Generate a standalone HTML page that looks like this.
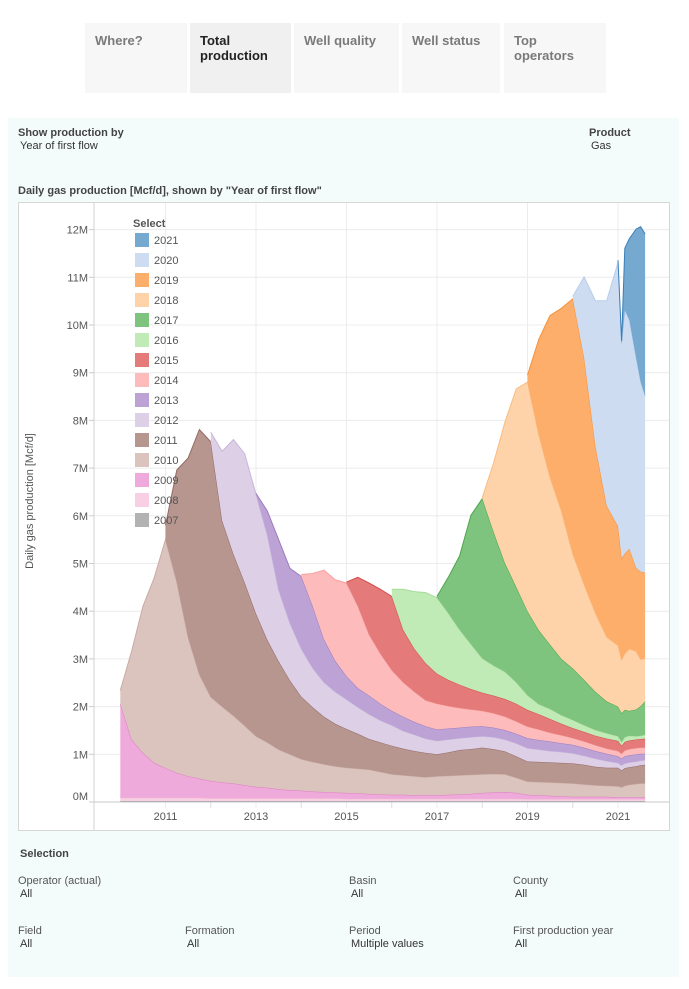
<!DOCTYPE html>
<html><head><meta charset="utf-8">
<style>
body{margin:0;width:689px;height:989px;background:#fff;font-family:"Liberation Sans",sans-serif;position:relative;overflow:hidden}
.a{position:absolute;white-space:nowrap}
.tab{position:absolute;top:23px;height:70px;background:#f7f7f7;font-weight:bold;font-size:13px;color:#7a7a7a;box-sizing:border-box;padding:10px 0 0 10px;line-height:15px}
.lbl{font-size:11px;color:#555}
.val{font-size:11px;color:#333}
.b{font-weight:bold;font-size:11px;color:#444}
</style></head><body>
<div class="tab" style="left:85px;width:102px">Where?</div>
<div class="tab" style="left:190px;width:101px;background:#f0f0f0;color:#222">Total<br>production</div>
<div class="tab" style="left:294px;width:105px">Well quality</div>
<div class="tab" style="left:402px;width:98px">Well status</div>
<div class="tab" style="left:504px;width:102px">Top<br>operators</div>

<div class="a" style="left:8px;top:118px;width:671px;height:859px;background:#f4fcfb"></div>
<div class="a b" style="left:18px;top:127px">Show production by</div>
<div class="a val" style="left:20px;top:140px">Year of first flow</div>
<div class="a b" style="left:589px;top:127px">Product</div>
<div class="a val" style="left:591px;top:140px">Gas</div>
<div class="a b" style="left:18px;top:185px">Daily gas production [Mcf/d], shown by "Year of first flow"</div>

<svg class="a" id="chart" style="left:0;top:0" width="689" height="989" xmlns="http://www.w3.org/2000/svg"></svg>

<div class="a b" style="left:20px;top:848px">Selection</div>
<div class="a lbl" style="left:18px;top:875px">Operator (actual)</div>
<div class="a val" style="left:20px;top:888px">All</div>
<div class="a lbl" style="left:349px;top:875px">Basin</div>
<div class="a val" style="left:351px;top:888px">All</div>
<div class="a lbl" style="left:513px;top:875px">County</div>
<div class="a val" style="left:515px;top:888px">All</div>
<div class="a lbl" style="left:18px;top:925px">Field</div>
<div class="a val" style="left:20px;top:938px">All</div>
<div class="a lbl" style="left:185px;top:925px">Formation</div>
<div class="a val" style="left:187px;top:938px">All</div>
<div class="a lbl" style="left:349px;top:925px">Period</div>
<div class="a val" style="left:351px;top:938px">Multiple values</div>
<div class="a lbl" style="left:513px;top:925px">First production year</div>
<div class="a val" style="left:515px;top:938px">All</div>

<script>
const times=[2010,2010.25,2010.5,2010.75,2011,2011.25,2011.5,2011.75,2012,2012.25,2012.5,2012.75,2013,2013.25,2013.5,2013.75,2014,2014.25,2014.5,2014.75,2015,2015.25,2015.5,2015.75,2016,2016.25,2016.5,2016.75,2017,2017.25,2017.5,2017.75,2018,2018.25,2018.5,2018.75,2019,2019.25,2019.5,2019.75,2020,2020.25,2020.5,2020.75,2021,2021.08,2021.15,2021.25,2021.4,2021.5,2021.6];
const cohorts=["2007","2008","2009","2010","2011","2012","2013","2014","2015","2016","2017","2018","2019","2020","2021"];
const v2007=[.02,.02,.02,.02,.02,.02,.02,.02,.02,.02,.02,.02,.02,.02,.02,.02,.02,.02,.02,.02,.02,.02,.02,.02,.02,.02,.02,.02,.02,.02,.02,.02,.02,.02,.02,.02,.02,.02,.02,.02,.02,.02,.02,.02,.02,.02,.02,.02,.02,.02,.02];
const v2008=[.07,.07,.07,.07,.07,.07,.07,.07,.06,.06,.06,.06,.06,.06,.06,.06,.06,.06,.06,.06,.05,.05,.05,.05,.05,.05,.05,.05,.05,.05,.05,.05,.05,.05,.05,.05,.04,.04,.04,.04,.04,.04,.04,.04,.04,.04,.04,.04,.04,.04,.04];
const v2009=[1.97,1.22,.94,.73,.62,.52,.45,.40,.36,.33,.31,.27,.24,.22,.19,.17,.16,.14,.13,.12,.12,.11,.10,.09,.08,.08,.07,.07,.07,.08,.09,.10,.12,.13,.14,.12,.09,.08,.07,.06,.05,.05,.05,.05,.04,.04,.04,.04,.04,.04,.04];
const v2010=[.28,1.85,3.07,3.88,4.79,4.0,2.91,2.18,1.76,1.59,1.42,1.25,1.06,.95,.83,.75,.66,.62,.58,.55,.53,.52,.51,.47,.43,.41,.40,.38,.4,.4,.4,.4,.39,.39,.37,.32,.28,.28,.28,.28,.28,.26,.24,.23,.23,.21,.24,.26,.28,.29,.29];
const v2011=[.3,2.35,3.76,5.14,5.35,3.9,3.39,3.0,2.57,2.15,1.85,1.55,1.31,1.15,1.0,.89,.81,.73,.64,.62,.6,.56,.53,.51,.46,.49,.53,.54,.56,.52,.48,.45,.42,.42,.42,.42,.42,.41,.39,.38,.39,.35,.37,.37,.37,.38,.39];
const v2012=[.2,1.45,2.4,2.7,2.5,2.2,1.5,1.2,1.0,.82,.72,.67,.62,.56,.52,.46,.43,.37,.34,.3,.28,.27,.25,.25,.24,.25,.25,.27,.28,.26,.24,.23,.21,.19,.17,.14,.1,.11,.1,.1,.1,.1,.1];
const v2013=[.02,.5,1.05,1.15,1.52,1.3,.9,.65,.49,.4,.39,.35,.3,.3,.27,.26,.24,.23,.22,.22,.21,.2,.2,.2,.21,.2,.2,.18,.18,.17,.16,.15,.14,.14,.15,.15,.15,.14,.13];
const v2014=[.04,.68,1.45,1.7,1.95,1.72,1.28,1.05,.85,.72,.63,.54,.54,.47,.41,.36,.32,.3,.28,.26,.24,.22,.18,.17,.14,.13,.12,.11,.11,.1,.12,.13,.13,.13,.13];
const v2015=[.02,.6,1.08,1.35,1.55,1.1,.9,.78,.63,.55,.49,.43,.38,.37,.37,.37,.35,.32,.29,.24,.21,.2,.2,.21,.21,.17,.18,.18,.18,.18,.19];
const v2016=[.15,.85,1.2,1.48,1.59,1.4,1.15,.94,.72,.63,.57,.45,.31,.21,.21,.18,.17,.14,.12,.11,.1,.08,.1,.1,.07,.07,.08];
const v2017=[.03,.75,1.55,2.7,3.35,2.8,2.28,2.0,1.76,1.55,1.35,1.18,1.08,.95,.8,.67,.62,.6,.57,.52,.56,.62,.7];
const v2018=[.02,1.45,2.95,4.15,4.8,4.1,3.5,3.1,2.4,2.0,1.65,1.35,1.28,1.12,1.18,1.3,1.22,.98,.9];
const v2019=[.15,2.0,3.4,4.25,5.35,4.75,3.5,2.75,2.5,2.13,2.1,2.1,1.75,1.84,1.8];
const v2020=[.05,1.7,3.05,4.3,5.53,4.5,5.1,4.8,4.4,3.98,3.7];
const v2021=[.05,.05,1.3,1.7,2.7,3.25,3.4];
const yTicks=[0,1,2,3,4,5,6,7,8,9,10,11,12];
const yTickLabels=["0M","1M","2M","3M","4M","5M","6M","7M","8M","9M","10M","11M","12M"];
const xTicks=[2011,2013,2015,2017,2019,2021];
const xMinorTicks=[2012,2014,2016,2018,2020];

const series=[v2007,v2008,v2009,v2010,v2011,v2012,v2013,v2014,v2015,v2016,v2017,v2018,v2019,v2020,v2021];
const fills=["#b2b2b2","#f9d0e3","#eeaada","#dbc4bd","#b79690","#dccfe6","#bda3d5","#febbbb","#e57a7a","#c0eab6","#7ec47e","#fed3a9","#feae6b","#cddcf0","#76a9d0"];
const strokes=["#999","#f0b8d0","#e07cc4","#c9aca3","#946a63","#c8b6db","#9a7cc0","#f7a0a0","#d44a4a","#a5dc98","#4ca64c","#f9bb80","#f5913a","#b8cde9","#3a7fb7"];
function xs(t){return 165.5+(t-2011)*45.25;}
function ys(v){return 802-v*47.7;}
const svg=document.getElementById('chart');
const NS="http://www.w3.org/2000/svg";
function mk(tag,attrs){const e=document.createElementNS(NS,tag);for(const k in attrs)e.setAttribute(k,attrs[k]);svg.appendChild(e);return e;}
let e;
e=mk('rect',{x:18.5,y:202.5,width:651,height:628,fill:'#fff',stroke:'#d6d6d6'});


yTicks.forEach((v,i)=>{
  const g=mk('line',{x1:94,x2:669,y1:ys(v),y2:ys(v),stroke:'#ececec'});
  
  
  const tk=mk('line',{x1:89,x2:94,y1:ys(v),y2:ys(v),stroke:'#ccc'});
  
  
  const t=mk('text',{x:88,y:(v===0?ys(v)-2:ys(v)+4),'text-anchor':'end','font-size':11,fill:'#555','font-family':'Liberation Sans, sans-serif'});
  t.textContent=yTickLabels[i];
  
  
});
xTicks.forEach(yr=>{
  const g=mk('line',{x1:xs(yr),x2:xs(yr),y1:203,y2:808,stroke:'#ececec'});
  
  
  const t=mk('text',{x:xs(yr),y:820,'text-anchor':'middle','font-size':11,fill:'#555','font-family':'Liberation Sans, sans-serif'});
  t.textContent=String(yr);
  
  
});
xMinorTicks.forEach(yr=>{
  const g=mk('line',{x1:xs(yr),x2:xs(yr),y1:802,y2:808,stroke:'#ddd'});
  
  
});
const cum=times.map(()=>0);
series.forEach((vals,si)=>{
  const start=times.length-vals.length;
  const low=[],up=[];
  for(let i=0;i<vals.length;i++){const k=start+i;low.push(cum[k]);up.push(cum[k]+vals[i]);cum[k]+=vals[i];}
  let d='',line='';
  for(let i=0;i<vals.length;i++){const k=start+i;const p=xs(times[k]).toFixed(1)+','+ys(up[i]).toFixed(1);d+=(i?'L':'M')+p;line+=(i?'L':'M')+p;}
  for(let i=vals.length-1;i>=0;i--){const k=start+i;d+='L'+xs(times[k]).toFixed(1)+','+ys(low[i]).toFixed(1);}
  d+='Z';
  const a=mk('path',{d:d,fill:fills[si],stroke:'none'});
  
  
  const l=mk('path',{d:line,fill:'none',stroke:strokes[si],'stroke-width':1});
  
  
});
e=mk('line',{x1:94,x2:94,y1:203,y2:830,stroke:'#d0d0d0'});


e=mk('line',{x1:94,x2:669,y1:802,y2:802,stroke:'#c8c8c8'});


e=mk('text',{x:0,y:0,transform:'translate(33,501) rotate(-90)','text-anchor':'middle','font-size':11,fill:'#555','font-family':'Liberation Sans, sans-serif'});
e.textContent='Daily gas production [Mcf/d]';


e=mk('text',{x:133,y:227,'font-size':11,'font-weight':'bold',fill:'#555','font-family':'Liberation Sans, sans-serif'});
e.textContent='Select';


for(let i=0;i<cohorts.length;i++){
  const si=cohorts.length-1-i;
  const y=233+i*20;
  const r=mk('rect',{x:135,y:y,width:14,height:14,fill:fills[si]});
  
  
  const t=mk('text',{x:154,y:y+11,'font-size':11,fill:'#555','font-family':'Liberation Sans, sans-serif'});
  t.textContent=cohorts[si];
  
  
}
</script>
</body></html>
